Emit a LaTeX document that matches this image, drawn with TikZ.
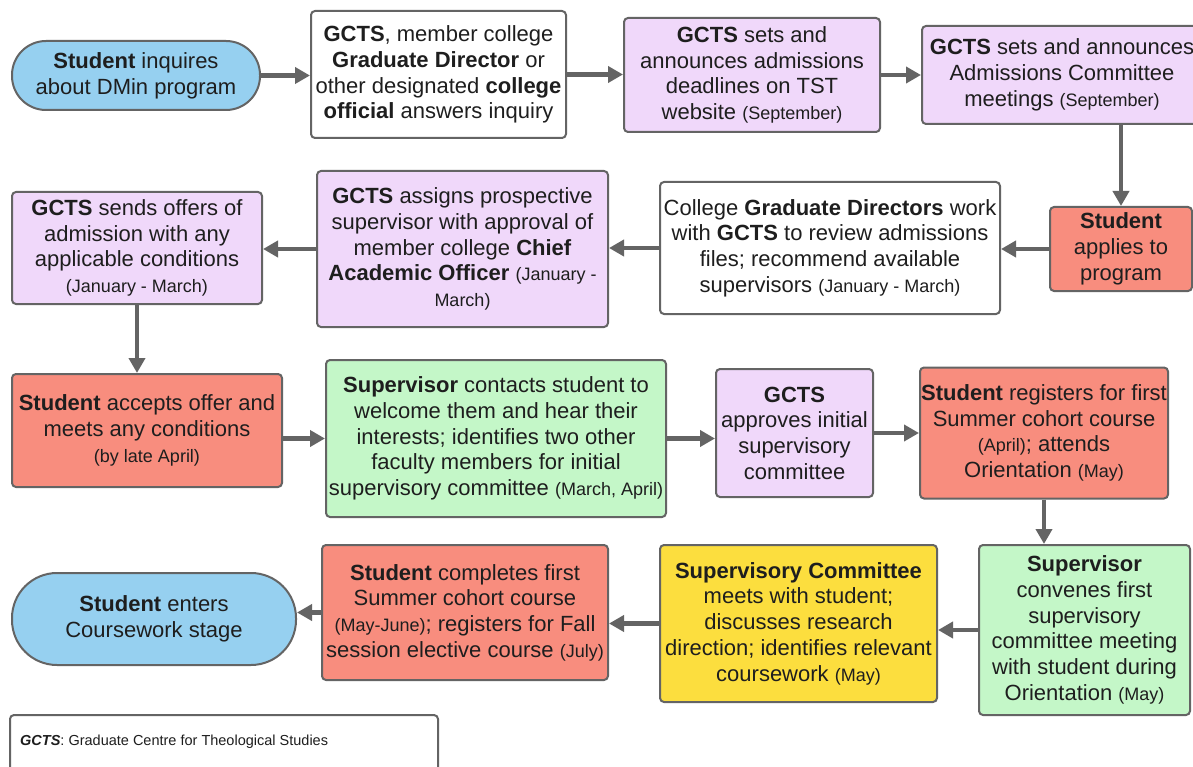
\documentclass[tikz,border=0pt]{standalone}
\usepackage{fontspec}
\setmainfont{Liberation Sans}
\usetikzlibrary{arrows.meta,calc}
\definecolor{lav}{RGB}{240,216,250}
\definecolor{sal}{RGB}{248,141,126}
\definecolor{grn}{RGB}{196,247,200}
\definecolor{ylw}{RGB}{252,222,62}
\definecolor{blu}{RGB}{150,208,240}
\definecolor{bord}{RGB}{100,100,100}
\definecolor{arrc}{RGB}{100,100,100}
\definecolor{txt}{RGB}{30,30,30}
\newcommand{\smtxt}[1]{{\fontsize{18}{25.7}\selectfont #1}}
\tikzset{
  box/.style={draw=bord, line width=2pt, rounded corners=4pt, inner sep=0pt,
    align=center, text=txt, font=\fontsize{22}{25.7}\selectfont},
  stad/.style={box, rounded corners=#1},
  arr/.style={draw=arrc, line width=4.5pt, -{Triangle[length=15pt,width=16pt]}},
}
\begin{document}
\begin{tikzpicture}[x=1pt,y=-1pt]
\useasboundingbox (0,0) rectangle (1193,767);
\clip (0,0) rectangle (1193,767);
\fill[white] (0,0) rectangle (1193,767);
% Row 1
\node[stad=34pt, fill=blu, minimum width=248pt, minimum height=69pt] (A) at (136,75.5)
  {\textbf{Student} inquires\\about DMin program};
\node[box, fill=white, minimum width=255pt, minimum height=127pt] (B) at (438.5,74.5)
  {\textbf{GCTS}, member college\\\textbf{Graduate Director} or\\other designated \textbf{college}\\\textbf{official} answers inquiry};
\node[box, fill=lav, minimum width=256pt, minimum height=114pt] (C) at (752,75)
  {\textbf{GCTS} sets and\\announces admissions\\deadlines on TST\\website \smtxt{(September)}};
\node[box, fill=lav, minimum width=280pt, minimum height=98pt] (D) at (1062,75)
  {\textbf{GCTS} sets and announces\\Admissions Committee\\meetings \smtxt{(September)}};
% Row 2
\node[box, fill=sal, minimum width=142pt, minimum height=84pt] (E) at (1121,249)
  {\textbf{Student}\\applies to\\program};
\node[box, fill=white, minimum width=340pt, minimum height=132pt] (F) at (830,248)
  {College \textbf{Graduate Directors} work\\with \textbf{GCTS} to review admissions\\files; recommend available\\supervisors \smtxt{(January - March)}};
\node[box, fill=lav, minimum width=291pt, minimum height=156pt] (G) at (462.5,249)
  {\textbf{GCTS} assigns prospective\\supervisor with approval of\\member college \textbf{Chief}\\\textbf{Academic Officer} \smtxt{(January -}\\\smtxt{March)}};
\node[box, fill=lav, minimum width=250pt, minimum height=112pt] (H) at (137,248)
  {\textbf{GCTS} sends offers of\\admission with any\\applicable conditions\\\smtxt{(January - March)}};
% Row 3
\node[box, fill=sal, minimum width=270pt, minimum height=113pt] (I) at (147,430.5)
  {\textbf{Student} accepts offer and\\meets any conditions\\\smtxt{(by late April)}};
\node[box, fill=grn, minimum width=340pt, minimum height=157pt] (J) at (496,438.5)
  {\textbf{Supervisor} contacts student to\\welcome them and hear their\\interests; identifies two other\\faculty members for initial\\supervisory committee \smtxt{(March, April)}};
\node[box, fill=lav, minimum width=157pt, minimum height=128pt] (K) at (794.5,433)
  {\textbf{GCTS}\\approves initial\\supervisory\\committee};
\node[box, fill=sal, minimum width=248pt, minimum height=131pt] (L) at (1044,433)
  {\textbf{Student} registers for first\\Summer cohort course\\\smtxt{(April)}; attends\\Orientation \smtxt{(May)}};
% Row 4
\node[box, fill=grn, minimum width=211pt, minimum height=170pt] (M) at (1084.5,630)
  {\textbf{Supervisor}\\convenes first\\supervisory\\committee meeting\\with student during\\Orientation \smtxt{(May)}};
\node[box, fill=ylw, minimum width=277pt, minimum height=157pt] (N) at (798.5,623.5)
  {\textbf{Supervisory Committee}\\meets with student;\\discusses research\\direction; identifies relevant\\coursework \smtxt{(May)}};
\node[box, fill=sal, minimum width=286pt, minimum height=135pt] (O) at (465,612.5)
  {\textbf{Student} completes first\\Summer cohort course\\\smtxt{(May-June)}; registers for Fall\\session elective course \smtxt{(July)}};
\node[stad=45pt, fill=blu, minimum width=284pt, minimum height=92pt] (P) at (154,619)
  {\textbf{Student} enters\\Coursework stage};
% Legend
\node[box, fill=white, minimum width=428pt, minimum height=80pt] (leg) at (224,755) {};
\node[anchor=west, inner sep=0pt, text=txt, font=\fontsize{14.5}{18}\selectfont] (legtext) at (20,742)
  {\textbf{\textit{GCTS}}: Graduate Centre for Theological Studies};
% Arrows
\draw[arr] (A.east) -- (A.east -| B.west);
\draw[arr] (B.east) -- (B.east -| C.west);
\draw[arr] (C.east) -- (C.east -| D.west);
\draw[arr] (E.north |- D.south) -- (E.north);
\draw[arr] (E.west) -- (E.west -| F.east);
\draw[arr] (F.west) -- (F.west -| G.east);
\draw[arr] (G.west) -- (G.west -| H.east);
\draw[arr] (H.south) -- (H.south |- I.north);
\draw[arr] (I.east |- J.west) -- (J.west);
\draw[arr] (J.east) -- (J.east -| K.west);
\draw[arr] (K.east) -- (K.east -| L.west);
\draw[arr] (L.south) -- (L.south |- M.north);
\draw[arr] (M.west) -- (M.west -| N.east);
\draw[arr] (N.west) -- (N.west -| O.east);
\draw[arr] (O.west) -- (O.west -| P.east);
\end{tikzpicture}
\end{document}
